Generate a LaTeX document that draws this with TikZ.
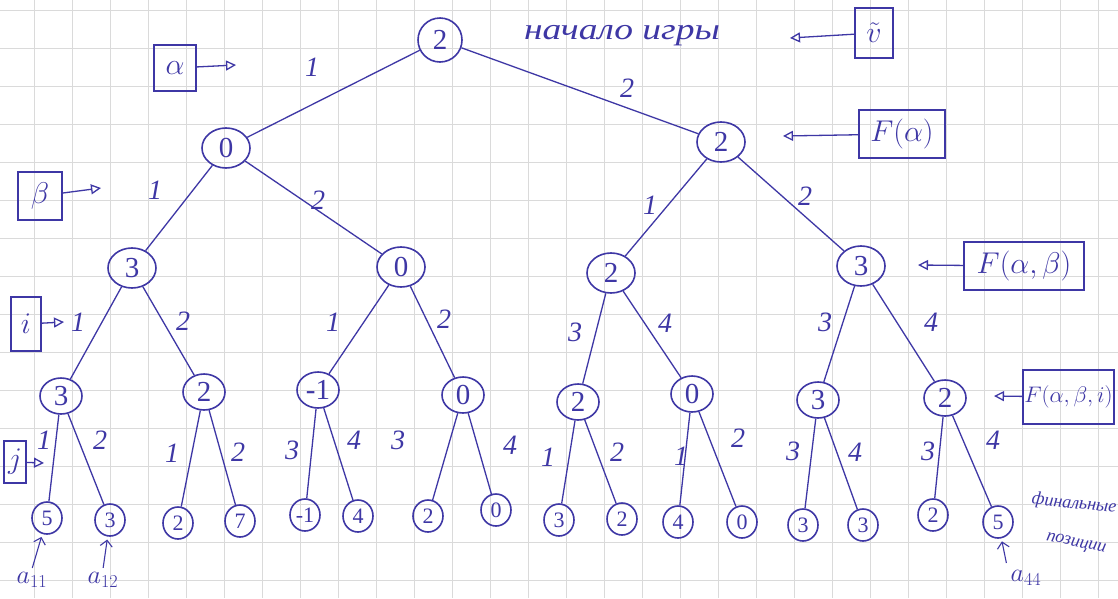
\RequirePackage{fix-cm}
\documentclass[tikz,border=0pt]{standalone}
\usepackage{fontspec}
\setmainfont{Liberation Serif}
\usetikzlibrary{arrows.meta,shapes.geometric}
\definecolor{ink}{RGB}{62,55,165}
\definecolor{gridc}{RGB}{218,218,218}
\begin{document}
\begin{tikzpicture}[x=1pt,y=-1pt,
  nd/.style={draw=ink, line width=1.6pt, ellipse, inner sep=0pt, text=ink, font=\fontsize{29}{31}\selectfont},
  big/.style={nd, minimum width=48, minimum height=40},
  mid/.style={nd, minimum width=42, minimum height=36},
  leaf/.style={nd, minimum width=30, minimum height=32, font=\fontsize{22}{24}\selectfont},
  conn/.style={draw=ink, line width=1.3pt},
  lab/.style={text=ink, inner sep=1pt, font=\itshape\fontsize{28}{30}\selectfont},
  tag/.style={draw=ink, line width=1.5pt, text=ink, inner sep=4pt, font=\fontsize{30}{32}\selectfont},
  ptr/.style={draw=ink, line width=1.3pt, -{Triangle[open, length=10pt, width=10pt]}},
  sptr/.style={draw=ink, line width=1.1pt, -{Straight Barb[length=6pt]}},
]
\useasboundingbox (0,0) rectangle (1118,598);
\fill[white] (0,0) rectangle (1118,598);
% grid paper
\foreach \k in {0,...,28} \draw[gridc, line width=0.6pt] ({34+38*\k},0) -- ({34+38*\k},598);
\foreach \k in {0,...,15} \draw[gridc, line width=0.6pt] (0,{10+38*\k}) -- (1118,{10+38*\k});

% tree nodes
\node[nd, circle, minimum size=44] (r) at (440,40) {2};
\node[big] (a) at (226,148) {0};
\node[big] (b) at (721,142) {2};
\node[big] (c1) at (132,268) {3};
\node[big] (c2) at (401,267) {0};
\node[big] (c3) at (611,273) {2};
\node[big] (c4) at (861,266) {3};
\node[mid] (d1) at (61,396) {3};
\node[mid] (d2) at (204,392) {2};
\node[mid] (d3) at (318,390) {-1};
\node[mid] (d4) at (463,395) {0};
\node[mid] (d5) at (578,402) {2};
\node[mid] (d6) at (692,394) {0};
\node[mid] (d7) at (818,400) {3};
\node[mid] (d8) at (945,398) {2};
\foreach \n/\x/\y/\v in {1/47/518/5, 2/110/520/3, 3/178/523/2, 4/240/521/7,
  5/305/515/-1, 6/358/516/4, 7/428/516/2, 8/496/510/0,
  9/559/520/3, 10/622/519/2, 11/678/522/4, 12/742/522/0,
  13/803/525/3, 14/863/525/3, 15/933/515/2, 16/998/522/5}
  \node[leaf] (l\n) at (\x,\y) {\v};

% connectors
\draw[conn] (r) -- (a);
\draw[conn] (r) -- (b);
\draw[conn] (a) -- (c1);
\draw[conn] (a) -- (c2);
\draw[conn] (b) -- (c3);
\draw[conn] (b) -- (c4);
\draw[conn] (c1) -- (d1);
\draw[conn] (c1) -- (d2);
\draw[conn] (c2) -- (d3);
\draw[conn] (c2) -- (d4);
\draw[conn] (c3) -- (d5);
\draw[conn] (c3) -- (d6);
\draw[conn] (c4) -- (d7);
\draw[conn] (c4) -- (d8);
\foreach \p/\u/\w in {1/1/2, 2/3/4, 3/5/6, 4/7/8, 5/9/10, 6/11/12, 7/13/14, 8/15/16} {
  \draw[conn] (d\p) -- (l\u);
  \draw[conn] (d\p) -- (l\w);
}

% edge labels
\foreach \n/\x/\y/\t in {e1/312/67/1, e2/627/88/2,
  e3/155/190/1, e4/318/200/2, e5/650/205/1, e6/805/196/2,
  e7/78/322/1, e8/183/321/2, e9/333/322/1, e10/444/319/2,
  e11/575/332/3, e12/665/323/4, e13/825/322/3, e14/931/322/4,
  f1/44/440/1, f2/100/440/2, f3/172/453/1, f4/238/452/2,
  f5/292/450/3, f6/354/440/4, f7/398/440/3, f8/510/445/4,
  f9/548/457/1, f10/617/452/2, f11/681/456/1, f12/738/438/2,
  f13/793/451/3, f14/855/452/4, f15/928/451/3, f16/993/440/4}
  \node[lab] (\n) at (\x,\y) {\t};

% title
\node[text=ink, font=\itshape\fontsize{30}{32}\selectfont] (title) at (622,36) {\scalebox{1.25}[1]{начало игры}};

% side tags
\node[tag, minimum width=42, minimum height=46] (talpha) at (175,68) {$\alpha$};
\coordinate (palpha) at (236,65);
\draw[ptr] (talpha) -- (palpha);
\node[tag, minimum width=44, minimum height=48] (tbeta) at (40,196) {$\beta$};
\coordinate (pbeta) at (101,188);
\draw[ptr] (tbeta) -- (pbeta);
\node[tag, minimum width=30, minimum height=54, inner sep=2pt] (ti) at (26,324) {$i$};
\coordinate (pi) at (64,322);
\draw[ptr] (ti) -- (pi);
\node[tag, minimum width=22, minimum height=42, inner sep=1pt] (tj) at (15,462) {$j$};
\coordinate (pj) at (44,463);
\draw[ptr] (tj) -- (pj);
\node[tag, minimum width=38, minimum height=50, inner sep=2pt] (tv) at (874,33) {$\tilde{v}$};
\coordinate (pv) at (790,38);
\draw[ptr] (tv) -- (pv);
\node[tag, minimum width=86, minimum height=48, inner sep=2pt] (tf1) at (902,134) {$F(\alpha)$};
\coordinate (pf1) at (783,136);
\draw[ptr] (tf1) -- (pf1);
\node[tag, minimum width=120, minimum height=48, inner sep=2pt] (tf2) at (1024,266) {$F(\alpha,\beta)$};
\coordinate (pf2) at (918,265);
\draw[ptr] (tf2) -- (pf2);
\node[tag, minimum height=54, inner sep=1.5pt, anchor=west, font=\fontsize{22.5}{24}\selectfont] (tf3) at (1022,397) {$F(\alpha,\beta,i)$};
\coordinate (pf3) at (994,396);
\draw[ptr] (tf3) -- (pf3);

% final positions labels
\node[text=ink, font=\fontsize{26}{28}\selectfont] (a11) at (32,580) {$a_{11}$};
\node[text=ink, font=\fontsize{26}{28}\selectfont] (a12) at (103,580) {$a_{12}$};
\node[text=ink, font=\fontsize{26}{28}\selectfont] (a44) at (1026,578) {$a_{44}$};
\draw[sptr, shorten <=1pt, shorten >=3pt] (a11.north) -- (l1);
\draw[sptr, shorten <=1pt, shorten >=3pt] (a12.north) -- (l2);
\draw[sptr, shorten <=4pt, shorten >=3pt] (a44.north west) -- (l16);
\node[text=ink, font=\itshape\fontsize{18}{20}\selectfont, rotate=-6, inner sep=0pt] (fin) at (1074,504) {финальные};
\node[text=ink, font=\itshape\fontsize{18}{20}\selectfont, rotate=-12, inner sep=0pt] (pos) at (1076,544) {позиции};
\end{tikzpicture}
\end{document}
